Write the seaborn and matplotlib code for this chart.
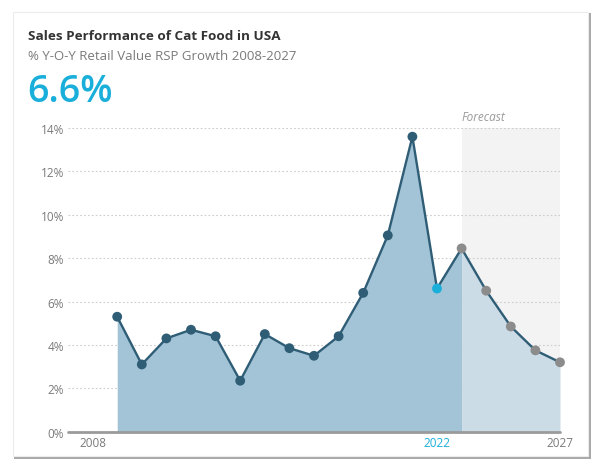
import matplotlib
matplotlib.use("Agg")
import matplotlib.pyplot as plt
from matplotlib.patches import Rectangle
import seaborn as sns
import pandas as pd

# Year-on-year retail value growth (%), actuals through 2022, forecast after
years = [2009, 2010, 2011, 2012, 2013, 2014, 2015, 2016, 2017, 2018,
         2019, 2020, 2021, 2022, 2023, 2024, 2025, 2026, 2027]
growth = [5.3, 3.1, 4.3, 4.7, 4.4, 2.35, 4.5, 3.85, 3.5, 4.4,
          6.4, 9.05, 13.6, 6.6, 8.45, 6.5, 4.85, 3.75, 3.2]
latest_year = 2022
forecast_start = 2023
x_ticks = [2008, 2022, 2027]
y_ticks = [0, 2, 4, 6, 8, 10, 12, 14]

title = "Sales Performance of Cat Food in USA"
subtitle = "% Y-O-Y Retail Value RSP Growth 2008-2027"
headline = "6.6%"

df = pd.DataFrame({"year": years, "growth": growth})
df["kind"] = ["forecast" if y >= forecast_start else
              ("latest" if y == latest_year else "actual") for y in years]

LINE = "#2f5d76"
FILL_DARK = "#a3c4d7"
FILL_LIGHT = "#cbdce6"
CYAN = "#1aafda"
GREY_PT = "#8c8c8c"
TICK = "#7a7a7a"

sns.set_theme(style="white")
plt.rcParams["font.family"] = ["Open Sans", "DejaVu Sans"]

W, H = 591, 460
fig = plt.figure(figsize=(W / 100, H / 100), dpi=100)
fig.patch.set_facecolor("white")

# card with drop shadow
fig.patches.append(Rectangle((14 / W, 0), (W - 14) / W, (H - 14) / H,
                             transform=fig.transFigure, facecolor="#a9a9a9",
                             edgecolor="none", zorder=-2))
fig.patches.append(Rectangle((13 / W, 3 / H), (588 - 13) / W, (457 - 13) / H,
                             transform=fig.transFigure, facecolor="white",
                             edgecolor="#ececec", linewidth=0.8, zorder=-1))

left, right = 68, 560
top, bottom = 129, 432.7
ax = fig.add_axes([left / W, (H - bottom) / H, (right - left) / W, (bottom - top) / H])
ax.set_facecolor("none")
ax.set_xlim(2007, 2027)
ax.set_ylim(0, 14)

# forecast band
ax.axvspan(forecast_start, years[-1], color="#f3f3f3", zorder=0, lw=0)
ax.text(forecast_start, 14.25, "Forecast", ha="left", va="bottom",
        fontsize=8.5, style="italic", color="#9a9a9a")

# dotted gridlines
for t in y_ticks[1:]:
    ax.axhline(t, color="#cccccc", lw=0.8, ls=(0, (1.5, 2)), zorder=1)

hist = df[df["year"] <= forecast_start]
fc = df[df["year"] >= forecast_start]
ax.fill_between(hist["year"], 0, hist["growth"], color=FILL_DARK, lw=0, zorder=2)
ax.fill_between(fc["year"], 0, fc["growth"], color=FILL_LIGHT, lw=0, zorder=2)

sns.lineplot(data=df, x="year", y="growth", color=LINE, lw=1.7, ax=ax, zorder=3)
sns.scatterplot(data=df, x="year", y="growth", hue="kind",
                palette={"actual": LINE, "latest": CYAN, "forecast": GREY_PT},
                s=50, edgecolor="none", legend=False, ax=ax, zorder=4, clip_on=False)

# baseline
ax.axhline(0, color="#9a9a9a", lw=2, zorder=5, clip_on=False)

ax.set_yticks(y_ticks)
ax.set_yticklabels([f"{t}%" for t in y_ticks])
ax.set_xticks(x_ticks)
ax.set_xticklabels([str(t) for t in x_ticks])
ax.tick_params(axis="both", length=0, labelsize=8.5, colors=TICK)
ax.tick_params(axis="y", pad=3)
ax.tick_params(axis="x", pad=3)
for lbl in ax.get_xticklabels():
    if lbl.get_text() == str(latest_year):
        lbl.set_color(CYAN)
ax.set_xlabel("")
ax.set_ylabel("")
for s in ax.spines.values():
    s.set_visible(False)

fig.text(28 / W, 1 - 40 / H, title, fontsize=9.7, fontweight="bold",
         color="#333333", ha="left", va="baseline")
fig.text(28 / W, 1 - 59.5 / H, subtitle, fontsize=9.5, color="#7a7a7a",
         ha="left", va="baseline")
fig.text(27.5 / W, 1 - 101.5 / H, headline, fontsize=27, fontweight="semibold",
         color=CYAN, ha="left", va="baseline")

fig.savefig("out.png", dpi=100)
